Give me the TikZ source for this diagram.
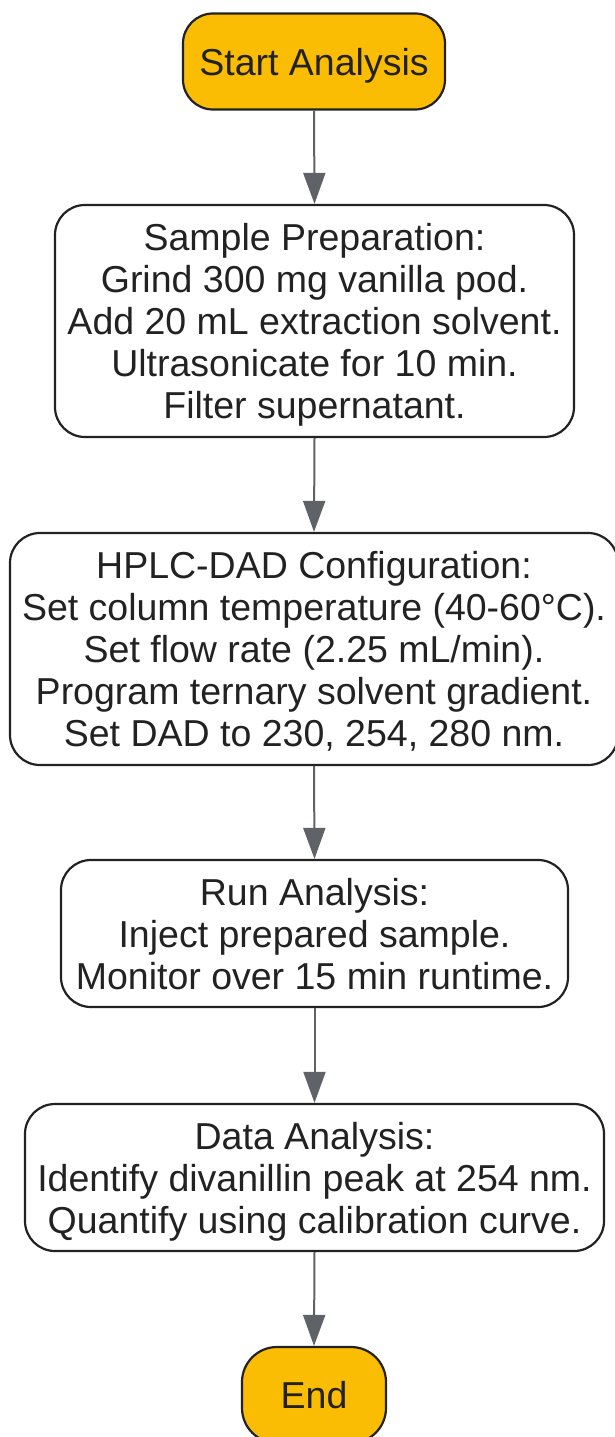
\documentclass[tikz,border=0pt]{standalone}
\usepackage{fontspec}
\setmainfont{Liberation Sans}
\usetikzlibrary{arrows.meta}
\definecolor{termfill}{HTML}{FBBC04}
\definecolor{edgegray}{HTML}{5F6368}
\definecolor{inkdark}{HTML}{222222}
\tikzset{
  basebox/.style={draw=inkdark, line width=2.2pt, rounded corners=30pt, inner sep=0pt,
    align=center, text=inkdark, text depth=0pt, font=\fontsize{37.5}{42}\selectfont},
  termbox/.style={basebox, fill=termfill},
  procbox/.style={basebox, fill=white},
  flowarrow/.style={draw=edgegray, line width=2pt, -{Triangle[length=31pt,width=22pt]}}
}
\begin{document}
\begin{tikzpicture}[x=1pt,y=-1pt]
\useasboundingbox (0,0) rectangle (615,1437);
\node[termbox, minimum width=262pt, minimum height=96pt] (start) at (314,61.5) {Start Analysis};
\node[procbox, minimum width=519pt, minimum height=232pt] (sample) at (314.5,321)
  {Sample Preparation:\\Grind 300 mg vanilla pod.\\Add 20 mL extraction solvent.\\Ultrasonicate for 10 min.\\Filter supernatant.};
\node[procbox, minimum width=608pt, minimum height=232pt] (hplc) at (314,649)
  {HPLC-DAD Configuration:\\Set column temperature (40-60°C).\\Set flow rate (2.25 mL/min).\\Program ternary solvent gradient.\\Set DAD to 230, 254, 280 nm.};
\node[procbox, minimum width=507pt, minimum height=147pt] (run) at (314.5,933.5)
  {Run Analysis:\\Inject prepared sample.\\Monitor over 15 min runtime.};
\node[procbox, minimum width=579pt, minimum height=147pt] (data) at (314.5,1177.5)
  {Data Analysis:\\Identify divanillin peak at 254 nm.\\Quantify using calibration curve.};
\node[termbox, minimum width=144pt, minimum height=96pt, rounded corners=35pt] (end) at (314,1395) {End};
\draw[flowarrow] (start.south) -- (sample.north);
\draw[flowarrow] (sample.south) -- (hplc.north);
\draw[flowarrow] (hplc.south) -- (run.north);
\draw[flowarrow] (run.south) -- (data.north);
\draw[flowarrow] (data.south) -- (end.north);
\end{tikzpicture}
\end{document}
